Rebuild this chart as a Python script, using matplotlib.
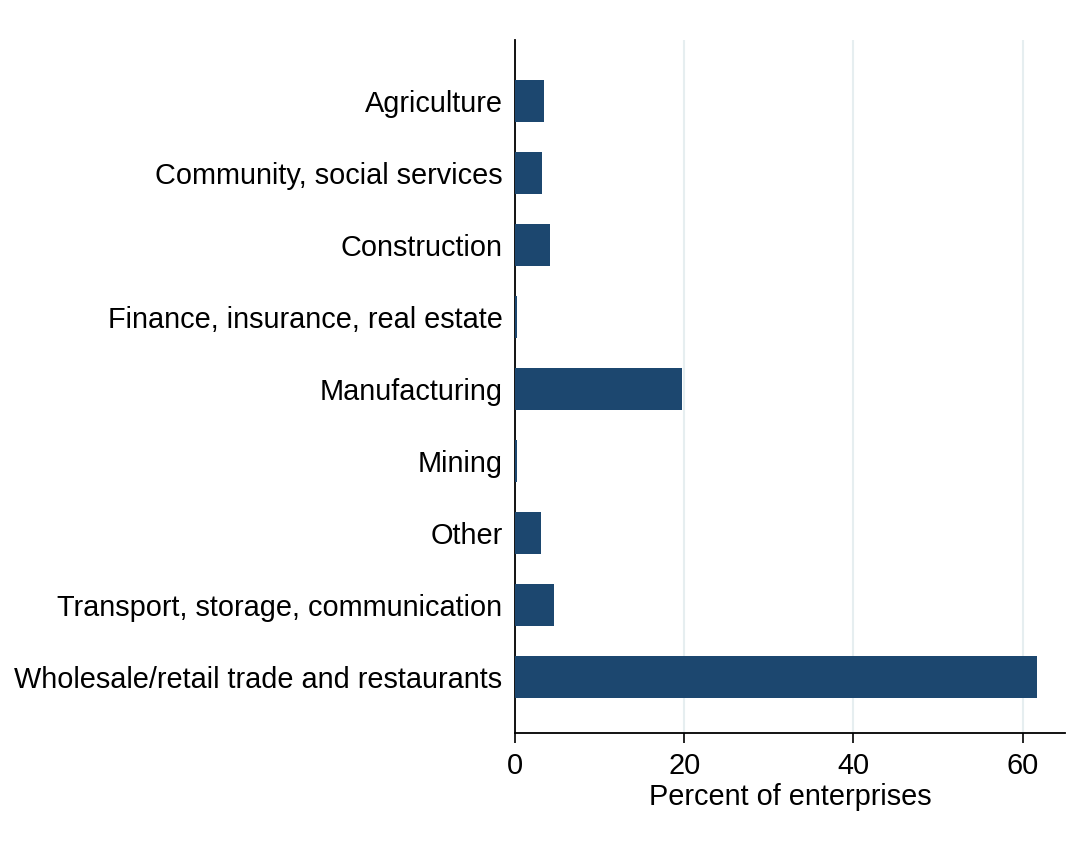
import numpy as np
from matplotlib import pyplot as plt

sectors = ['Agriculture', 'Community, social services', 'Construction',
           'Finance, insurance, real estate', 'Manufacturing', 'Mining',
           'Other', 'Transport, storage, communication',
           'Wholesale/retail trade and restaurants']
percent = [3.4, 3.2, 4.1, 0.2, 19.8, 0.2, 3.1, 4.6, 61.7]
xticks = [0, 20, 40, 60]

plt.rcParams['font.family'] = ['Liberation Sans', 'DejaVu Sans']

fig = plt.figure(figsize=(10.91, 8.46), dpi=100)
ax = fig.add_axes([0.472, 0.1336, 0.504, 0.8191])

y = np.arange(len(sectors))
ax.barh(y, percent, height=0.58, color='#1c476f', zorder=3)

ax.set_ylim(len(sectors) - 1 + 0.78, -0.85)
ax.set_xlim(0, 65)
ax.set_yticks(y)
ax.set_yticklabels(sectors, fontsize=20.8)
ax.set_xticks(xticks)
ax.set_xticklabels([str(t) for t in xticks], fontsize=20.8)
ax.tick_params(axis='y', length=0, pad=9)
ax.tick_params(axis='x', length=7, width=1.2, pad=7, direction='out')
ax.set_xlabel('Percent of enterprises', fontsize=20.8, labelpad=2)

ax.grid(axis='x', color='#e6eef0', linewidth=1.5, zorder=0)
ax.spines['top'].set_visible(False)
ax.spines['right'].set_visible(False)
ax.spines['left'].set_linewidth(1.3)
ax.spines['bottom'].set_linewidth(1.3)

plt.savefig('out.png')
